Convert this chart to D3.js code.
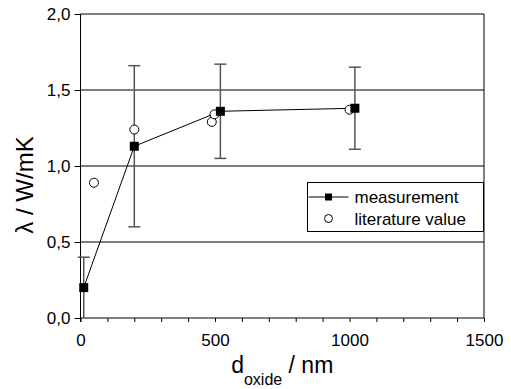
<!DOCTYPE html>
<html>
<head>
<meta charset="utf-8">
<script src="https://cdn.jsdelivr.net/npm/d3@7"></script>
<style>
  body { margin: 0; background: #fff; }
  text { font-family: "Liberation Sans", Arial, sans-serif; fill: #000; }
</style>
</head>
<body>
<div id="chart"></div>
<script>
// measurement series
var measX = [12, 200, 520, 1020];
var measY = [0.20, 1.13, 1.36, 1.38];
var measErr = [0.20, 0.53, 0.31, 0.27];

// literature values
var litX = [50, 200, 488, 498, 1000];
var litY = [0.89, 1.24, 1.29, 1.34, 1.37];

var yTicks = [0, 0.5, 1.0, 1.5, 2.0];
var xTicks = [0, 500, 1000, 1500];

var svgWidth = 511;
var svgHeight = 389;

var margin = { top: 14, right: 27, bottom: 71, left: 80.5 };
var width = svgWidth - margin.left - margin.right;
var height = svgHeight - margin.top - margin.bottom;

var svg = d3.select("#chart")
  .append("svg")
  .attr("width", svgWidth)
  .attr("height", svgHeight);

var chartGroup = svg.append("g")
  .attr("transform", `translate(${margin.left}, ${margin.top})`);

var xScale = d3.scaleLinear().domain([0, 1500]).range([0, width]);
var yScale = d3.scaleLinear().domain([0, 2]).range([height, 0]);

var fmt = d => d3.format(".1f")(d).replace(".", ",");

// gridlines
chartGroup.selectAll(".grid")
  .data(yTicks.filter(d => d > 0))
  .enter()
  .append("line")
  .attr("x1", 0)
  .attr("x2", width)
  .attr("y1", d => yScale(d))
  .attr("y2", d => yScale(d))
  .attr("stroke", "#000")
  .attr("stroke-width", 1);

// right border
chartGroup.append("line")
  .attr("x1", width).attr("x2", width)
  .attr("y1", 0).attr("y2", height)
  .attr("stroke", "#000");

// axes
var leftAxis = d3.axisLeft(yScale)
  .tickValues(yTicks)
  .tickSize(6)
  .tickPadding(4)
  .tickFormat(fmt);

var bottomAxis = d3.axisBottom(xScale)
  .tickValues(d3.range(0, 1501, 100))
  .tickSize(4)
  .tickPadding(12)
  .tickFormat(d => xTicks.indexOf(d) >= 0 ? d : "");

var yAxis = chartGroup.append("g").call(leftAxis);
var xAxis = chartGroup.append("g")
  .attr("transform", `translate(0, ${height})`)
  .call(bottomAxis);

[yAxis, xAxis].forEach(function(ax) {
  ax.select(".domain").attr("stroke", "#000").attr("stroke-width", 1);
  ax.selectAll(".tick line").attr("stroke", "#000");
  ax.selectAll(".tick text")
    .style("font-size", "17px")
    .attr("fill", "#000");
});
xAxis.select(".domain").attr("d", `M0,0H${width}`);
yAxis.select(".domain").attr("d", `M0,${height + 4}V0`);

// error bars
var errData = measX.map((x, i) => ({ x: x, y: measY[i], e: measErr[i] }));
var errG = chartGroup.selectAll(".err")
  .data(errData)
  .enter()
  .append("g")
  .attr("stroke", "#555")
  .attr("stroke-width", 1.5);

errG.append("line")
  .attr("x1", d => xScale(d.x)).attr("x2", d => xScale(d.x))
  .attr("y1", d => yScale(d.y - d.e)).attr("y2", d => yScale(d.y + d.e));
errG.append("line")
  .attr("x1", d => xScale(d.x) - 6).attr("x2", d => xScale(d.x) + 6)
  .attr("y1", d => yScale(d.y + d.e)).attr("y2", d => yScale(d.y + d.e));
errG.filter(d => d.y - d.e > 0.001).append("line")
  .attr("x1", d => xScale(d.x) - 6).attr("x2", d => xScale(d.x) + 6)
  .attr("y1", d => yScale(d.y - d.e)).attr("y2", d => yScale(d.y - d.e));

// measurement line
var line = d3.line()
  .x(d => xScale(d.x))
  .y(d => yScale(d.y));

chartGroup.append("path")
  .datum(errData)
  .attr("d", line)
  .attr("fill", "none")
  .attr("stroke", "#000")
  .attr("stroke-width", 1);

// literature circles
var litData = litX.map((x, i) => ({ x: x, y: litY[i] }));
chartGroup.selectAll(".lit")
  .data(litData)
  .enter()
  .append("circle")
  .attr("cx", d => xScale(d.x))
  .attr("cy", d => yScale(d.y))
  .attr("r", 4.5)
  .attr("fill", "#fff")
  .attr("stroke", "#000")
  .attr("stroke-width", 1);

// measurement squares
chartGroup.selectAll(".meas")
  .data(errData)
  .enter()
  .append("rect")
  .attr("x", d => xScale(d.x) - 4.5)
  .attr("y", d => yScale(d.y) - 4.5)
  .attr("width", 9)
  .attr("height", 9)
  .attr("fill", "#000");

// legend
var legend = svg.append("g").attr("transform", "translate(307.5, 182.5)");
legend.append("rect")
  .attr("width", 176)
  .attr("height", 49)
  .attr("fill", "#fff")
  .attr("stroke", "#000");
legend.append("line")
  .attr("x1", 1).attr("x2", 41)
  .attr("y1", 14.5).attr("y2", 14.5)
  .attr("stroke", "#000");
legend.append("rect")
  .attr("x", 17.5).attr("y", 11).attr("width", 7).attr("height", 7)
  .attr("fill", "#000");
legend.append("circle")
  .attr("cx", 21).attr("cy", 36).attr("r", 4)
  .attr("fill", "#fff").attr("stroke", "#000");
legend.append("text")
  .attr("x", 47).attr("y", 20)
  .style("font-size", "17px")
  .text("measurement");
legend.append("text")
  .attr("x", 47).attr("y", 42)
  .style("font-size", "17px")
  .text("literature value");

// axis titles
svg.append("text")
  .attr("transform", `translate(33, 185) rotate(-90)`)
  .attr("text-anchor", "middle")
  .style("font-size", "24px")
  .text("λ / W/mK");

var xt = svg.append("text")
  .attr("x", margin.left + width / 2)
  .attr("y", 373)
  .attr("text-anchor", "middle")
  .style("font-size", "23px");
xt.append("tspan").text("d");
xt.append("tspan").attr("dy", 12).style("font-size", "16px").text("oxide");
xt.append("tspan").attr("dy", -12).text(" / nm");
</script>
</body>
</html>
